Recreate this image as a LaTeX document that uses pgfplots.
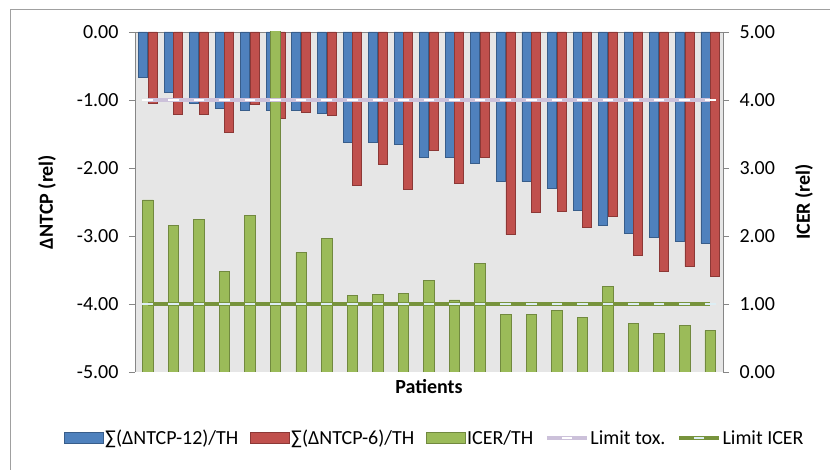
\documentclass[border=0pt]{standalone}
\usepackage{fontspec}
\setmainfont{Carlito}
\usepackage{pgfplots}
\pgfplotsset{compat=1.18}
\usepackage{pgfplotstable}
\definecolor{bl}{HTML}{4F81BD}
\definecolor{bledge}{HTML}{385D8A}
\definecolor{rd}{HTML}{C0504D}
\definecolor{rdedge}{HTML}{8C3836}
\definecolor{gr}{HTML}{9BBB59}
\definecolor{gredge}{HTML}{71893F}
\definecolor{lav}{HTML}{CCC1DA}
\definecolor{icer}{HTML}{77933C}
\definecolor{bg}{HTML}{E6E6E6}
\definecolor{axgray}{HTML}{868686}
\definecolor{frame}{HTML}{A0A0A0}
\definecolor{icermark}{HTML}{DDEEF4}
\pgfplotsset{
  mybarlegend/.style={legend image code/.code={\draw[##1] (0pt,-5.5pt) rectangle (39pt,5.5pt);}},
  mylinelegend/.style={legend image code/.code={\draw[mark repeat=2, mark phase=2, ##1] plot coordinates {(0pt,0pt) (20pt,0pt) (40pt,0pt)};}},
  mynum/.style={yticklabel style={font=\fontsize{20}{24}\selectfont, /pgf/number format/fixed, /pgf/number format/fixed zerofill, /pgf/number format/precision=2, /pgf/number format/assume math mode=true}},
}
\pgfplotstableread{
x b r g t c
0 -0.67 -1.05 2.53 4 1
1 -0.89 -1.21 2.15 4 1
2 -1.05 -1.21 2.24 4 1
3 -1.13 -1.47 1.475 4 1
4 -1.16 -1.07 2.30 4 1
5 -1.16 -1.27 5.5 4 1
6 -1.16 -1.18 1.76 4 1
7 -1.20 -1.23 1.97 4 1
8 -1.62 -2.25 1.12 4 1
9 -1.63 -1.94 1.14 4 1
10 -1.65 -2.32 1.16 4 1
11 -1.84 -1.74 1.34 4 1
12 -1.84 -2.23 1.06 4 1
13 -1.93 -1.85 1.60 4 1
14 -2.20 -2.98 0.85 4 1
15 -2.20 -2.66 0.85 4 1
16 -2.30 -2.64 0.91 4 1
17 -2.63 -2.88 0.80 4 1
18 -2.85 -2.71 1.26 4 1
19 -2.96 -3.29 0.72 4 1
20 -3.02 -3.52 0.57 4 1
21 -3.08 -3.45 0.68 4 1
22 -3.11 -3.60 0.61 4 1
}\data
\begin{document}
\begin{tikzpicture}[font=\fontsize{20}{24}\selectfont]
\path[use as bounding box] (0,0) rectangle (830pt,470pt);
\draw[color=frame, line width=1pt] (10pt,0pt) -- (10pt,460pt) -- (830pt,460pt);
\begin{axis}[
  at={(135pt,98pt)}, anchor=south west,
  scale only axis, width=588pt, height=340pt,
  xmin=-0.5, xmax=22.5, ymin=-5, ymax=0,
  axis background/.style={fill=bg},
  axis y line*=left, axis x line*=top,
  axis line style={color=axgray, line width=0.8pt, -},
  xtick=\empty,
  ytick={-5,-4,-3,-2,-1,0},
  tick align=outside, major tick length=6pt,
  ytick style={color=axgray, line width=0.8pt},
  mynum,
  yticklabel style={xshift=-7pt},
  ylabel={\bfseries ΔNTCP (rel)},
  ylabel style={at={(axis description cs:-0.1497,0.5)}, anchor=center, rotate=0},
  xlabel={\bfseries Patients},
  xlabel style={at={(axis description cs:0.5,-0.044)}, anchor=center},
]
\addplot[ybar, bar width=9pt, bar shift=-4.8pt, fill=bl, draw=bledge, line width=0.8pt] table[x=x,y=b]{\data};
\addplot[ybar, bar width=9pt, bar shift=4.8pt, fill=rd, draw=rdedge, line width=0.8pt] table[x=x,y=r]{\data};
\end{axis}
\begin{axis}[
  at={(135pt,98pt)}, anchor=south west,
  scale only axis, width=588pt, height=340pt,
  xmin=-0.5, xmax=22.5, ymin=0, ymax=5,
  axis y line*=right, axis x line=none,
  axis line style={color=axgray, line width=0.8pt, -},
  xtick=\empty,
  ytick={0,1,2,3,4,5},
  tick align=outside, major tick length=6pt,
  ytick style={color=axgray, line width=0.8pt},
  mynum,
  yticklabel style={xshift=7pt},
  ylabel={\bfseries ICER (rel)},
  ylabel style={at={(axis description cs:1.1378,0.5)}, anchor=center, rotate=0},
  legend style={at={(axis description cs:0.5094,-0.194)}, anchor=center, draw=none, fill=none,
    font=\fontsize{20}{24}\selectfont, nodes={inner sep=1.5pt}},
  legend columns=5,
  legend cell align=left,
  /tikz/every even column/.append style={column sep=10pt},
]
\addlegendimage{mybarlegend, fill=bl, draw=bledge, line width=0.8pt}
\addlegendentry{∑(ΔNTCP-12)/TH}
\addlegendimage{mybarlegend, fill=rd, draw=rdedge, line width=0.8pt}
\addlegendentry{∑(ΔNTCP-6)/TH}
\addplot[ybar, bar width=10.5pt, fill=gr, draw=gredge, line width=0.8pt, mybarlegend] table[x=x,y=g]{\data};
\addlegendentry{ICER/TH}
\addplot[color=lav, line width=4pt, mark=-, mark size=5.3pt, mark options={draw=white, line width=2.2pt}, mylinelegend] table[x=x,y=t]{\data};
\addlegendentry{Limit tox.}
\addplot[color=icer, line width=4pt, mark=-, mark size=5.3pt, mark options={draw=icermark, line width=2.2pt}, mylinelegend] table[x=x,y=c]{\data};
\addlegendentry{Limit ICER}
\end{axis}
\end{tikzpicture}
\end{document}
